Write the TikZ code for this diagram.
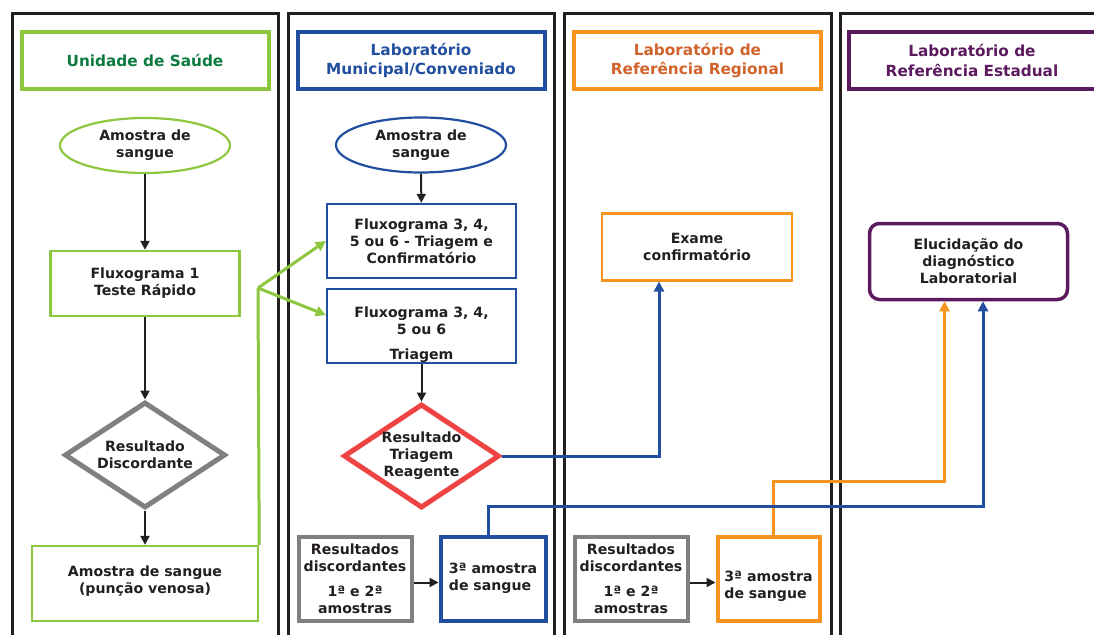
\documentclass[tikz,border=0pt]{standalone}
\usepackage{fontspec}
\setmainfont{DejaVu Sans}
\usetikzlibrary{shapes.geometric,arrows.meta,positioning,calc}
\definecolor{saudegreen}{RGB}{141,198,63}
\definecolor{saudetext}{RGB}{11,122,62}
\definecolor{munblue}{RGB}{33,78,158}
\definecolor{regorange}{RGB}{247,148,29}
\definecolor{regtext}{RGB}{208,98,43}
\definecolor{estpurple}{RGB}{92,26,94}
\definecolor{reagred}{RGB}{238,68,68}
\definecolor{discgrey}{RGB}{128,128,128}
\definecolor{inkblack}{RGB}{35,31,32}

\begin{document}
\begin{tikzpicture}[x=1pt, y=-1pt,
    lanebox/.style={draw=inkblack, line width=3pt},
    headbox/.style={rectangle, line width=4pt, minimum width=247pt, minimum height=57pt,
        inner sep=0pt, align=center, font=\fontsize{15.3}{19.5}\selectfont\bfseries},
    txt/.style={text=inkblack, align=center, inner sep=0pt,
        font=\fontsize{14.1}{17}\selectfont\bfseries},
    sample/.style={txt, ellipse, line width=2.2pt, minimum width=170pt, minimum height=55pt},
    stepbox/.style={txt, rectangle, line width=2.4pt},
    decision/.style={txt, diamond, line width=5pt, aspect=1.5, inner sep=-14pt},
    arr/.style={-{Triangle[length=9pt,width=9pt]}, line width=2pt, inkblack},
    flow/.style={-{Triangle[length=10pt,width=10pt]}, line width=3pt}
]
    \useasboundingbox (0,0) rectangle (1094,634);
    \clip (0,0) rectangle (1094,634);

    % Lanes
    \draw[lanebox] (12,13.5) rectangle (278,660);
    \draw[lanebox] (288,13.5) rectangle (554,660);
    \draw[lanebox] (564,13.5) rectangle (831,660);
    \draw[lanebox] (840,13.5) rectangle (1120,660);

    % Headers
    \node[headbox, draw=saudegreen, text=saudetext] (hsaude) at (145,60.5) {Unidade de Saúde};
    \node[headbox, draw=munblue, text=munblue] (hmun) at (421,60.5)
        {Laboratório\\Municipal/Conveniado};
    \node[headbox, draw=regorange, text=regtext] (hreg) at (697.5,60.5)
        {Laboratório de\\Referência Regional};
    \node[headbox, draw=estpurple, text=estpurple] (hest) at (972,60.5)
        {Laboratório de\\Referência Estadual};

    % Unidade de Saude
    \node[sample, draw=saudegreen] (amostra1) at (145,145.5) {Amostra de\\sangue};
    \node[stepbox, draw=saudegreen, minimum width=189pt, minimum height=65pt] (teste)
        at (145,283.5) {Fluxograma 1\\Teste Rápido};
    \node[decision, draw=discgrey, minimum width=161pt, minimum height=106pt] (disc)
        at (145,455) {Resultado\\Discordante};
    \node[stepbox, draw=saudegreen, minimum width=226pt, minimum height=75pt] (venosa)
        at (145,583.5) {Amostra de sangue\\(punção venosa)\rule[-8pt]{0pt}{1pt}};

    % Laboratorio municipal
    \node[sample, draw=munblue] (amostra2) at (421,145) {Amostra de\\sangue};
    \node[stepbox, draw=munblue, minimum width=189pt, minimum height=74pt] (triconf)
        at (421.5,241) {Fluxograma 3, 4,\\5 ou 6 - Triagem e\\Confirmatório};
    \node[stepbox, draw=munblue, minimum width=189pt, minimum height=74pt] (triagem)
        at (421.5,326) {\rule{0pt}{29pt}Fluxograma 3, 4,\\5 ou 6\\[8pt]Triagem};
    \node[decision, draw=reagred, minimum width=156pt, minimum height=104pt] (reag)
        at (421.5,456) {Resultado\\Triagem\\Reagente};
    \node[stepbox, draw=discgrey, line width=4pt, minimum width=113pt, minimum height=84pt]
        (disc1) at (355,578.5) {Resultados\\discordantes\\[8pt]1ª e 2ª\\amostras};
    \node[stepbox, draw=munblue, line width=4pt, minimum width=105pt, minimum height=84pt,
        align=left] (terc1) at (493,578.5) {3ª amostra\\de sangue};

    % Laboratorio regional
    \node[stepbox, draw=regorange, line width=2.2pt, minimum width=190pt, minimum height=67pt]
        (exame) at (697,247) {Exame\\confirmatório};
    \node[stepbox, draw=discgrey, line width=4pt, minimum width=113pt, minimum height=84pt]
        (disc2) at (631,578.5) {Resultados\\discordantes\\[8pt]1ª e 2ª\\amostras};
    \node[stepbox, draw=regorange, line width=4pt, minimum width=102pt, minimum height=84pt,
        align=left] (terc2) at (768.5,578.5) {\rule{0pt}{26pt}3ª amostra\\de sangue};

    % Laboratorio estadual
    \node[stepbox, draw=estpurple, line width=3.5pt, rounded corners=10pt,
        minimum width=198pt, minimum height=76pt] (eluc) at (968.5,261.5)
        {Elucidação do\\diagnóstico\\Laboratorial};

    % Arrows
    \draw[arr] (amostra1) -- (teste);
    \draw[arr] (teste) -- (disc);
    \draw[arr] (disc) -- (venosa);
    \draw[arr] (amostra2) -- (triconf);
    \draw[arr] (triagem.south -| reag.north) -- (reag);
    \draw[arr] ([yshift=-4pt]disc1.east) -- ([yshift=-4pt]terc1.west);
    \draw[arr] ([yshift=-4pt]disc2.east) -- ([yshift=-4pt]terc2.west);

    % Second sample goes to the lab
    \coordinate (split) at (258,288);
    \draw[flow, saudegreen, -] (venosa.north east) -- (split);
    \draw[flow, saudegreen] (split) -- (triconf.west);
    \draw[flow, saudegreen] (split) -- ([yshift=11pt]triagem.west);

    % Reagent and third samples
    \draw[flow, munblue] (reag.east) -| ([xshift=-38pt]exame.south);
    \draw[flow, regorange] ([xshift=4.5pt]terc2.north) -- ++(0,-53)
        -| ([xshift=-24pt]eluc.south);
    \draw[flow, munblue] ([xshift=-5pt]terc1.north) -- ++(0,-28)
        -| ([xshift=14.5pt]eluc.south);
\end{tikzpicture}
\end{document}
